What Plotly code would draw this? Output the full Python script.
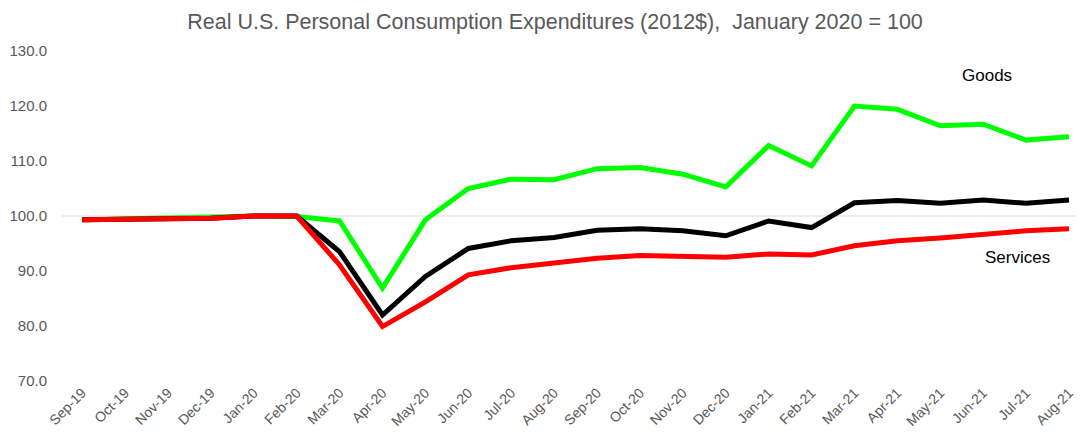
import plotly.graph_objects as go

months = ["Sep-19", "Oct-19", "Nov-19", "Dec-19", "Jan-20", "Feb-20", "Mar-20", "Apr-20",
          "May-20", "Jun-20", "Jul-20", "Aug-20", "Sep-20", "Oct-20", "Nov-20", "Dec-20",
          "Jan-21", "Feb-21", "Mar-21", "Apr-21", "May-21", "Jun-21", "Jul-21", "Aug-21"]

goods = [99.3, 99.4, 99.7, 99.8, 100.0, 99.9, 99.1, 86.9,
         99.3, 105.0, 106.7, 106.6, 108.6, 108.8, 107.6, 105.3,
         112.8, 109.1, 120.0, 119.4, 116.4, 116.7, 113.8, 114.4]

total = [99.3, 99.4, 99.7, 99.6, 100.0, 100.0, 93.5, 82.0,
         89.0, 94.1, 95.5, 96.1, 97.4, 97.7, 97.3, 96.4,
         99.1, 97.9, 102.4, 102.8, 102.3, 102.9, 102.3, 102.9]

services = [99.3, 99.4, 99.7, 99.6, 100.0, 100.0, 91.1, 79.9,
            84.4, 89.3, 90.6, 91.5, 92.3, 92.8, 92.7, 92.5,
            93.1, 92.9, 94.6, 95.5, 96.0, 96.7, 97.3, 97.7]

y_ticks = [70, 80, 90, 100, 110, 120, 130]

fig = go.Figure()
fig.add_trace(go.Scatter(x=months, y=goods, mode="lines", name="Goods",
                         line=dict(color="#00FF00", width=5)))
fig.add_trace(go.Scatter(x=months, y=total, mode="lines", name="Total",
                         line=dict(color="#000000", width=5)))
fig.add_trace(go.Scatter(x=months, y=services, mode="lines", name="Services",
                         line=dict(color="#FF0000", width=5)))

fig.add_annotation(x=21.1, y=125.5, text="Goods", showarrow=False,
                   font=dict(size=17, color="#000000", family="Liberation Sans"))
fig.add_annotation(x=21.8, y=92.5, text="Services", showarrow=False,
                   font=dict(size=17, color="#000000", family="Liberation Sans"))

# page has an 8px body margin, so margins are offset accordingly
fig.update_layout(
    width=1084, height=438,
    margin=dict(l=54, r=17, t=43, b=65, autoexpand=False),
    paper_bgcolor="white", plot_bgcolor="white",
    showlegend=False,
    title=dict(text="Real U.S. Personal Consumption Expenditures (2012$),  January 2020 = 100",
               x=(555 - 8) / 1084, xanchor="center", y=1 - 13 / 438, yanchor="middle",
               font=dict(size=21.5, color="#595959", family="Liberation Sans")),
    font=dict(family="Liberation Sans", color="#595959"),
)
fig.update_xaxes(type="category", range=[-0.47, 23.14], tickangle=-45, automargin=False,
                 showgrid=False, zeroline=False, showline=False, ticks="",
                 tickfont=dict(size=14, color="#595959"))
fig.update_yaxes(range=[70, 130], tickvals=y_ticks, automargin=False,
                 ticktext=[f"{v:.1f}" for v in y_ticks],
                 showgrid=False, zeroline=False, showline=False, ticks="",
                 tickfont=dict(size=15, color="#595959"), ticklabelstandoff=14)
fig.add_hline(y=100, line=dict(color="#D9D9D9", width=1.2), layer="below")

fig.write_html("out.html")
